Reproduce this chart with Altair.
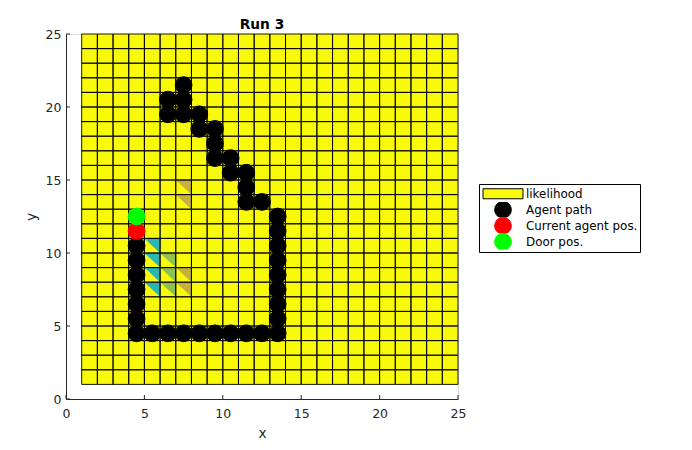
import altair as alt
import pandas as pd

# ---------------- data ----------------
title_text = "Run 3"
x_ticks = [0, 5, 10, 15, 20, 25]
y_ticks = [0, 5, 10, 15, 20, 25]

# grid cells (lower-left corners), each cell is 1x1
cell_cols = list(range(1, 25))
cell_rows = list(range(1, 25))

# coloured upper-right triangles inside some cells (lower-left corner of the cell)
tri_x = [5, 5, 5, 5, 6, 6, 6, 7, 7, 7, 7]
tri_y = [10, 9, 8, 7, 9, 8, 7, 8, 7, 14, 13]
tri_col = ["#2bb6b4", "#2bb6b4", "#2bb6b4", "#2bb6b4",
           "#92c24e", "#8cc152", "#8cc152",
           "#c6b13c", "#c6b13c", "#c8b03e", "#c8b03e"]

# agent path
path_x = [7.5, 7.5, 6.5, 6.5, 7.5, 8.5, 8.5, 9.5, 9.5, 9.5, 10.5, 10.5, 11.5, 11.5, 11.5,
          12.5, 13.5, 13.5, 13.5, 13.5, 13.5, 13.5, 13.5, 13.5, 13.5,
          12.5, 11.5, 10.5, 9.5, 8.5, 7.5, 6.5, 5.5, 4.5,
          4.5, 4.5, 4.5, 4.5, 4.5, 4.5]
path_y = [21.5, 20.5, 20.5, 19.5, 19.5, 19.5, 18.5, 18.5, 17.5, 16.5, 16.5, 15.5, 15.5, 14.5, 13.5,
          13.5, 12.5, 11.5, 10.5, 9.5, 8.5, 7.5, 6.5, 5.5, 4.5,
          4.5, 4.5, 4.5, 4.5, 4.5, 4.5, 4.5, 4.5, 4.5,
          5.5, 6.5, 7.5, 8.5, 9.5, 10.5]
agent_pos = (4.5, 11.5)
door_pos = (4.5, 12.5)

legend_names = ["likelihood", "Agent path", "Current agent pos.", "Door pos."]
legend_fill = ["#f9f90b", "#000000", "#ff0000", "#00ff00"]
legend_stroke = ["#000000", "#000000", "#ff0000", "#00ff00"]
legend_shape = ["M-2.39,-0.6L2.39,-0.6L2.39,0.6L-2.39,0.6Z", "circle", "circle", "circle"]

# ---------------- tables ----------------
cells = pd.DataFrame([{"x": c, "x2": c + 1, "y": r, "y2": r + 1} for c in cell_cols for r in cell_rows])

tri_rows = []
for i, (tx, ty, tc) in enumerate(zip(tri_x, tri_y, tri_col)):
    tri_rows.append({"id": i, "x": tx, "top": ty + 1, "bot": ty + 1, "col": tc})
    tri_rows.append({"id": i, "x": tx + 1, "top": ty + 1, "bot": ty, "col": tc})
tris = pd.DataFrame(tri_rows)

pts = pd.DataFrame(
    [{"x": a, "y": b, "series": "Agent path", "order": 1} for a, b in zip(path_x, path_y)]
    + [{"x": agent_pos[0], "y": agent_pos[1], "series": "Current agent pos.", "order": 2}]
    + [{"x": door_pos[0], "y": door_pos[1], "series": "Door pos.", "order": 3}]
)

xt = pd.DataFrame({"t": x_ticks})
yt = pd.DataFrame({"t": y_ticks})

W, H = 392, 365
AX = "#262626"
FONT = "DejaVu Sans"

xscale = alt.Scale(domain=[0, 25], nice=False, zero=False)
yscale = alt.Scale(domain=[0, 25], nice=False, zero=False)

xaxis = alt.Axis(values=x_ticks, title="x", grid=False, tickSize=0, labelPadding=8,
                 labelFont=FONT, labelFontSize=12.5, labelColor=AX, domainColor=AX,
                 titleFont=FONT, titleFontSize=13.75, titleFontWeight="normal", titleColor=AX,
                 titleBaseline="alphabetic", titleY=38.5, labelFlush=False)
yaxis = alt.Axis(values=y_ticks, title="y", grid=False, tickSize=0, labelPadding=5,
                 labelFont=FONT, labelFontSize=12.5, labelColor=AX, domainColor=AX,
                 titleFont=FONT, titleFontSize=13.75, titleFontWeight="normal", titleColor=AX,
                 titleBaseline="alphabetic", titleX=-31, titleY=H / 2, titleAngle=-90,
                 labelFlush=False)

base_fill = alt.Chart(cells).mark_rect(color="#f9f90b", strokeWidth=0).encode(
    x=alt.X("x:Q", scale=xscale, axis=xaxis),
    x2="x2:Q",
    y=alt.Y("y:Q", scale=yscale, axis=yaxis),
    y2="y2:Q",
)

tri_layer = alt.Chart(tris).mark_area(opacity=1, interpolate="linear").encode(
    x="x:Q",
    y="top:Q",
    y2="bot:Q",
    detail="id:N",
    color=alt.Color("col:N", scale=None),
)

grid_layer = alt.Chart(cells).mark_rect(filled=False, stroke="#000000", strokeWidth=0.9).encode(
    x="x:Q", x2="x2:Q", y="y:Q", y2="y2:Q"
)

xtick_layer = alt.Chart(xt).mark_rule(color=AX, strokeWidth=1).encode(
    x="t:Q", y=alt.value(H), y2=alt.value(H - 4)
)
ytick_layer = alt.Chart(yt).mark_rule(color=AX, strokeWidth=1).encode(
    y="t:Q", x=alt.value(0), x2=alt.value(4)
)

leg = alt.Legend(title=None, orient="none", legendX=413, legendY=150,
                 fillColor="white", strokeColor="black", padding=2,
                 labelFont=FONT, labelFontSize=11.9, labelColor="black",
                 symbolOffset=13, labelOffset=14, rowPadding=0, clipHeight=15.5,
                 symbolStrokeWidth=1, symbolSize=280)

pt_layer = alt.Chart(pts).mark_point(filled=True, size=280, opacity=1, strokeWidth=1).encode(
    x="x:Q",
    y="y:Q",
    color=alt.Color("series:N", scale=alt.Scale(domain=legend_names, range=legend_fill), legend=leg),
    stroke=alt.Stroke("series:N", scale=alt.Scale(domain=legend_names, range=legend_stroke), legend=leg),
    shape=alt.Shape("series:N", scale=alt.Scale(domain=legend_names, range=legend_shape), legend=leg),
    order=alt.Order("order:Q"),
)

chart = alt.layer(
    base_fill, tri_layer, grid_layer, xtick_layer, ytick_layer, pt_layer
).properties(
    width=W, height=H,
    title=alt.TitleParams(title_text, font=FONT, fontSize=13.75, fontWeight="bold",
                          anchor="middle", baseline="alphabetic", offset=7, dy=22, color="black"),
    autosize=alt.AutoSizeParams(type="none"),
    padding={"left": 66, "top": 34, "right": 234, "bottom": 51},
).configure_view(strokeWidth=0).configure(background="white")

chart.save("out.html", embed_options={"renderer": "svg", "actions": False})
